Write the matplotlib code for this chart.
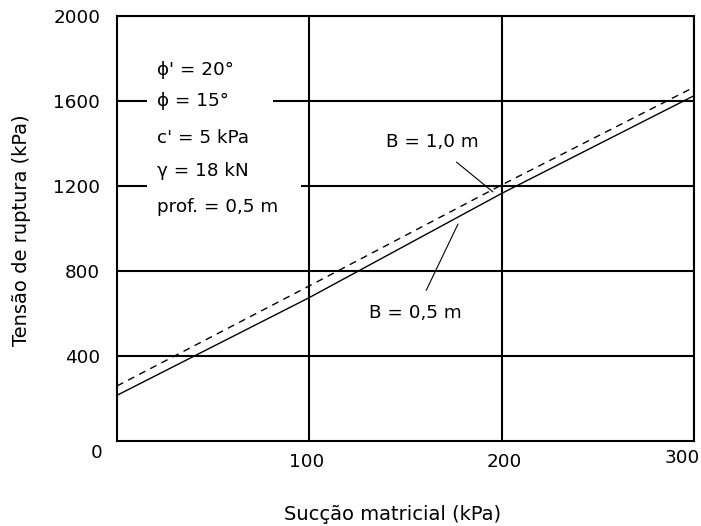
import matplotlib
matplotlib.use("Agg")
import matplotlib.pyplot as plt
from matplotlib.transforms import offset_copy
from matplotlib.patches import Rectangle

# data
suction = [0, 100, 200, 300]
b05 = [215, 675, 1165, 1625]   # B = 0,5 m (solid)
b10 = [259, 730, 1205, 1665]   # B = 1,0 m (dashed)
xticks = [100, 200, 300]
xtick_labels = ["100", "200", "300"]
yticks = [400, 800, 1200, 1600, 2000]
ytick_labels = ["400", "800", "1200", "1600", "2000"]
params = ["\u03d5' = 20°", "\u03d5 = 15°", "c' = 5 kPa", "\u03b3 = 18 kN", "prof. = 0,5 m"]
param_y = [1745, 1600, 1425, 1270, 1100]

plt.rcParams['font.family'] = ['DejaVu Sans']
FS = 13.2

fig = plt.figure(figsize=(7.01, 5.26), dpi=100)
ax = fig.add_axes([117/701, 1-441/526, (694-117)/701, (441-16)/526])
ax.set_xlim(0, 300)
ax.set_ylim(0, 2000)

for v in xticks:
    ax.axvline(v, color='black', lw=1.5, zorder=1)
for v in yticks:
    ax.axhline(v, color='black', lw=1.5, zorder=1)
for s in ax.spines.values():
    s.set_linewidth(1.5)

# white areas behind parameter text (break the grid lines)
ax.add_patch(Rectangle((15.5, 1560), 65.5, 80, facecolor='white', edgecolor='none', zorder=2))
ax.add_patch(Rectangle((15.5, 1160), 80, 80, facecolor='white', edgecolor='none', zorder=2))

ax.plot(suction, b05, color='black', lw=1.0, zorder=3)
ax.plot(suction, b10, color='black', lw=1.0, ls=(0, (5, 4)), zorder=3)

for t, y in zip(params, param_y):
    ax.text(21, y, t, fontsize=FS, ha='left', va='center', zorder=4)

ax.annotate("B = 1,0 m", xy=(195.5, 1172), xytext=(164, 1405),
            fontsize=FS, ha='center', va='center',
            arrowprops=dict(arrowstyle='-', color='black', lw=0.8, shrinkA=9, shrinkB=0))
ax.annotate("B = 0,5 m", xy=(177.3, 1021), xytext=(155, 600),
            fontsize=FS, ha='center', va='center',
            arrowprops=dict(arrowstyle='-', color='black', lw=0.8, shrinkA=9, shrinkB=0))

ax.set_yticks(yticks)
ax.set_yticklabels(ytick_labels, fontsize=FS)
ax.tick_params(axis='y', length=0, pad=12)
ax.set_xticks([])

tr = ax.get_xaxis_transform()
x_off = [-3, 3, -12]
y_off = [-21, -21, -17]
for v, lab, dx, dy in zip(xticks, xtick_labels, x_off, y_off):
    ax.text(v, 0, lab, fontsize=FS, ha='center', va='center',
            transform=offset_copy(tr, fig=fig, x=dx, y=dy, units='dots'))
ax.text(0, 0, "0", fontsize=FS, ha='center', va='center',
        transform=offset_copy(tr, fig=fig, x=-20, y=-12, units='dots'))

fig.text(22/701, 1-230/526, "Tensão de ruptura (kPa)", rotation=90,
         ha='center', va='center', fontsize=14)
fig.text(393/701, 1-515/526, "Sucção matricial (kPa)",
         ha='center', va='center', fontsize=14)

fig.savefig("out.png", dpi=100)
